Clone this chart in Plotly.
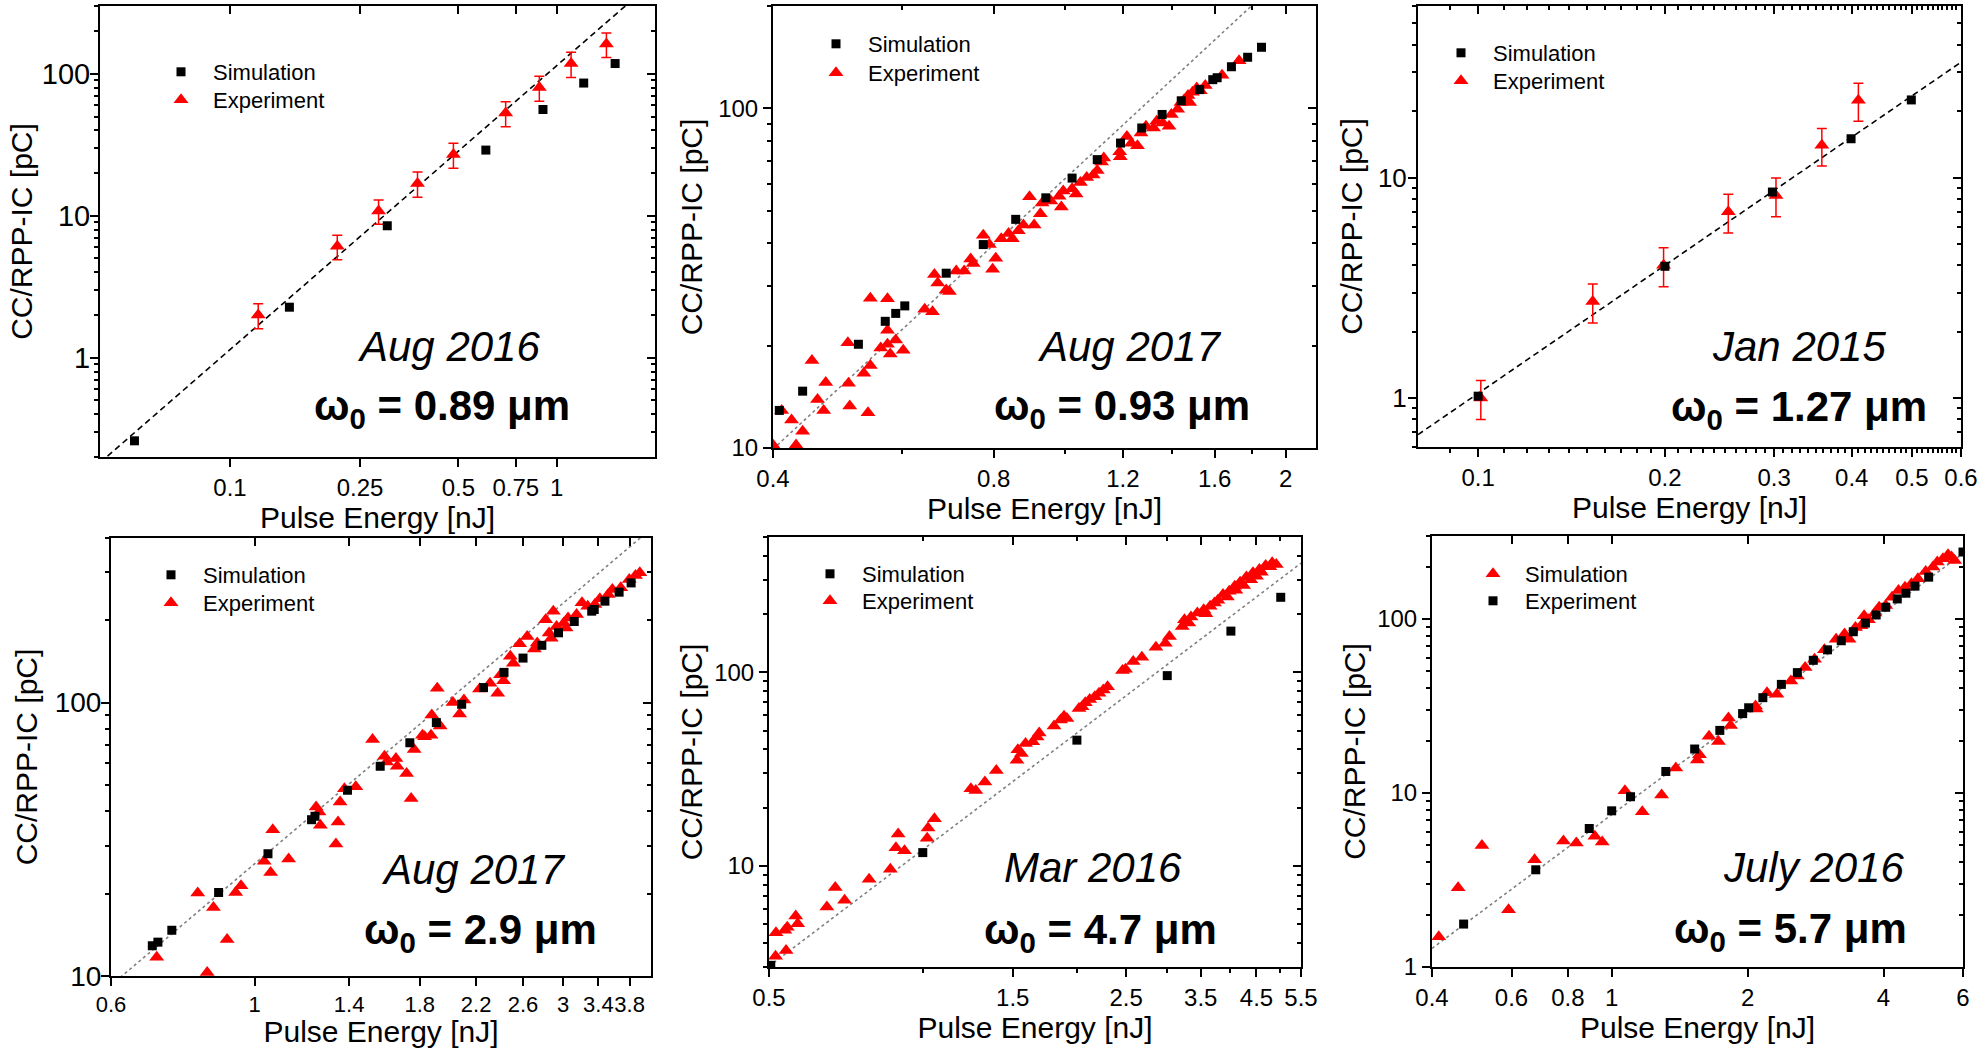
import math
import plotly.graph_objects as go

FONT = "Liberation Sans, Arial, sans-serif"
RED = "#ff0000"
BLACK = "#000000"
W, H = 1985, 1048

# ---------------------------------------------------------------- data
# Panel 1 -- Aug 2016, w0 = 0.89 um
p1_sim = [(0.051, 0.26), (0.152, 2.27), (0.303, 8.5), (0.607, 29), (0.908, 56),
          (1.21, 86), (1.51, 118)]
p1_exp = [(0.122, 2.0), (0.213, 6.1), (0.285, 10.8), (0.375, 16.9), (0.483, 27),
          (0.698, 53), (0.885, 80), (1.107, 118), (1.42, 162)]
p1_exp_err = [0.4, 1.2, 2.1, 3.4, 5.4, 10.6, 16, 24, 32]

# Panel 2 -- Aug 2017, w0 = 0.93 um
p2_sim = [(0.408, 12.9), (0.439, 14.7), (0.523, 20.2), (0.569, 23.6), (0.588, 24.9),
          (0.605, 26.2), (0.689, 32.7), (0.774, 39.7), (0.857, 47.1), (0.942, 54.5),
          (1.023, 62.3), (1.107, 70.6), (1.191, 79.0), (1.273, 87.5), (1.357, 95.9),
          (1.441, 105.2), (1.527, 113.5), (1.591, 121.4), (1.613, 123), (1.687, 132.5),
          (1.775, 141.3), (1.854, 151.2)]
p2_exp = [(0.40, 10.2), (0.411, 12.9), (0.424, 12.1), (0.439, 11.2), (0.430, 10.2),
          (0.452, 18.1), (0.460, 13.9), (0.469, 12.9), (0.472, 15.6), (0.506, 20.4),
          (0.507, 15.5), (0.509, 13.3), (0.532, 16.6), (0.539, 12.7), (0.543, 27.6),
          (0.543, 17.5), (0.561, 19.7), (0.573, 27.5), (0.573, 22.2), (0.573, 20.2),
          (0.578, 18.9), (0.588, 20.8), (0.602, 19.4), (0.644, 25.6), (0.660, 25.2),
          (0.664, 32.4), (0.671, 30.6), (0.689, 29.2), (0.696, 28.9), (0.711, 33.2),
          (0.729, 33.2), (0.744, 36.0), (0.750, 34.9), (0.774, 42.3), (0.789, 39.7),
          (0.797, 33.6), (0.805, 36.2), (0.819, 41.3), (0.838, 42.8), (0.848, 41.3),
          (0.864, 43.6), (0.878, 45.3), (0.895, 54.9), (0.908, 45.3), (0.926, 48.9),
          (0.931, 52.6), (0.957, 53.3), (0.982, 55.1), (0.989, 51.2), (0.995, 57.1),
          (1.023, 58.0), (1.036, 55.9), (1.050, 60.5), (1.071, 62.6), (1.093, 63.6),
          (1.107, 65.6), (1.122, 69.5), (1.130, 71.4), (1.188, 74.5), (1.190, 72.0),
          (1.215, 82.6), (1.232, 78.9), (1.256, 77.6), (1.270, 84.5), (1.290, 88.5),
          (1.321, 87.5), (1.334, 91.6), (1.360, 90.5), (1.387, 88.5), (1.397, 95.9),
          (1.425, 99.3), (1.440, 104), (1.454, 105.7), (1.472, 109), (1.480, 104),
          (1.493, 111.4), (1.513, 114.8), (1.530, 112.7), (1.554, 116.7), (1.638, 125),
          (1.728, 138)]

# Panel 3 -- Jan 2015, w0 = 1.27 um
p3_sim = [(0.1, 1.02), (0.2, 3.96), (0.298, 8.6), (0.399, 15.0), (0.499, 22.5)]
p3_exp = [(0.101, 1.0), (0.153, 2.74), (0.199, 4.0), (0.253, 7.0), (0.302, 8.3),
          (0.358, 14.0), (0.410, 22.4)]
p3_exp_err = [0.2, 0.55, 0.8, 1.4, 1.65, 2.7, 4.4]

# Panel 4 -- Aug 2017, w0 = 2.9 um
p4_sim = [(0.695, 12.9), (0.709, 13.3), (0.745, 14.7), (0.880, 20.2), (1.049, 28.0),
          (1.225, 37.3), (1.240, 38.4), (1.392, 47.8), (1.564, 58.5), (1.738, 71.3),
          (1.910, 84.5), (2.090, 98.6), (2.259, 113.5), (2.43, 129), (2.60, 145.5),
          (2.78, 162), (2.95, 180), (3.12, 198), (3.32, 216), (3.35, 219), (3.48, 235),
          (3.66, 253.5), (3.82, 274)]
p4_exp = [(0.706, 11.7), (0.845, 10.3), (0.817, 20.1), (0.864, 17.8), (0.907, 13.6),
          (0.935, 20.2), (0.953, 21.4), (1.035, 26.3), (1.059, 23.9), (1.067, 34.3),
          (1.129, 26.8), (1.245, 41.5), (1.258, 39.8), (1.264, 35.6), (1.336, 30.4),
          (1.346, 36.6), (1.356, 43.3), (1.377, 48.4), (1.434, 49.2), (1.522, 73.3),
          (1.588, 63.7), (1.600, 60.7), (1.654, 62.5), (1.662, 58.5), (1.718, 55.0),
          (1.746, 44.6), (1.765, 67.4), (1.818, 76.0), (1.832, 75), (1.874, 76.0),
          (1.879, 90.1), (1.916, 112.9), (1.936, 82.1), (2.026, 100), (2.075, 90.8),
          (2.107, 102.3), (2.227, 112.2), (2.312, 117.8), (2.376, 108.2), (2.40, 126.4),
          (2.426, 120.1), (2.485, 147.6), (2.512, 139.4), (2.569, 164.1), (2.639, 174.6),
          (2.707, 157), (2.735, 165.2), (2.818, 201), (2.853, 179.7), (2.875, 172),
          (2.896, 215.8), (2.93, 190), (3.006, 195.5), (3.03, 187.5), (3.052, 204),
          (3.146, 210), (3.207, 231.7), (3.273, 225), (3.357, 228.4), (3.418, 239.6),
          (3.521, 248.5), (3.573, 259.3), (3.681, 263), (3.795, 282), (3.88, 291.7),
          (3.94, 298.5)]

# Panel 5 -- Mar 2016, w0 = 4.7 um
p5_sim = [(0.504, 3.06), (1.0, 11.7), (2.003, 44.6), (3.01, 96.1), (4.01, 163.2),
          (5.02, 244)]
p5_exp = [(0.515, 3.41), (0.516, 4.51), (0.540, 3.65), (0.537, 4.64), (0.543, 4.82),
          (0.564, 5.50), (0.569, 5.02), (0.649, 6.13), (0.674, 7.72), (0.703, 6.64),
          (0.785, 8.53), (0.864, 9.61), (0.886, 12.4), (0.895, 14.6), (0.921, 11.96),
          (1.02, 13.9), (1.024, 15.7), (1.054, 17.5), (1.242, 25.0), (1.27, 24.5),
          (1.323, 27.1), (1.393, 31.1), (1.529, 35.1), (1.535, 39.8), (1.56, 38.0),
          (1.589, 42.8), (1.642, 43.7), (1.674, 46.3), (1.69, 48.6), (1.807, 52.7),
          (1.861, 56.6), (1.89, 59.3), (1.915, 57.7), (2.022, 65.0), (2.05, 66.3),
          (2.08, 69.6), (2.122, 72.4), (2.171, 74.8), (2.213, 77.8), (2.256, 80.9),
          (2.30, 84.2), (2.46, 102), (2.494, 103.7), (2.582, 113.6), (2.684, 119.7),
          (2.86, 134.8), (2.984, 141.4), (3.04, 153), (3.22, 172.6), (3.253, 187),
          (3.317, 179.6), (3.35, 193), (3.447, 202.3), (3.548, 210.6), (3.583, 200.8),
          (3.652, 219.3), (3.724, 228), (3.781, 235.5), (3.87, 252), (3.946, 245),
          (3.98, 262), (4.08, 278.5), (4.10, 265.5), (4.18, 292), (4.246, 280.5),
          (4.30, 311), (4.385, 301), (4.43, 326.6), (4.50, 313.7), (4.56, 339.6),
          (4.60, 328.9), (4.69, 356.4), (4.78, 350.8), (4.83, 368), (4.92, 360.7)]

# Panel 6 -- July 2016, w0 = 5.7 um (legend: triangles = Simulation, squares = Experiment)
p6_sim = [(0.414, 1.49), (0.457, 2.85), (0.516, 5.0), (0.591, 2.13), (0.675, 4.14),
          (0.782, 5.3), (0.835, 5.16), (0.918, 5.64), (0.953, 5.23), (1.07, 10.3),
          (1.169, 7.8), (1.29, 9.74), (1.387, 13.9), (1.548, 15.5), (1.565, 16.6),
          (1.643, 21.2), (1.724, 19.8), (1.814, 27.0), (1.834, 24.4), (2.083, 31.6),
          (2.09, 30.4), (2.208, 37.7), (2.323, 36.9), (2.494, 44), (2.578, 47),
          (2.682, 52.6), (2.814, 58.7), (2.96, 66.5), (3.141, 76.6), (3.28, 81.9),
          (3.356, 76.6), (3.467, 89.5), (3.568, 91.5), (3.624, 104.5), (3.704, 99.1),
          (3.828, 108.3), (3.913, 116.8), (4.046, 119.4), (4.178, 133.4), (4.319, 145.8),
          (4.464, 152.4), (4.613, 159.4), (4.768, 170.3), (4.96, 187.8), (5.149, 199),
          (5.263, 212.6), (5.417, 222.3), (5.56, 234.4), (5.66, 227.2), (5.749, 217)]
p6_exp = [(0.470, 1.765), (0.679, 3.62), (0.892, 6.25), (1.0, 7.9), (1.101, 9.52),
          (1.318, 13.3), (1.527, 17.9), (1.736, 22.9), (1.950, 28.6), (2.011, 30.9),
          (2.162, 35.3), (2.376, 42.1), (2.578, 49.2), (2.796, 57.9), (3.006, 66.5),
          (3.225, 75), (3.429, 84.5), (3.648, 94.8), (3.853, 105.5), (4.046, 116.8),
          (4.291, 130.5), (4.484, 140.7), (4.697, 154.5), (5.036, 174), (6.0, 242.7)]

# power-law guide lines  y = a * x**k
fit_a = [114, 62, 89.4, 25.7, 12.1, 7.5]
fit_k = [2.0, 2.0, 1.93, 2.0, 2.0, 1.93]

dates = ["Aug 2016", "Aug 2017", "Jan 2015", "Aug 2017", "Mar 2016", "July 2016"]
waists = ["0.89", "0.93", "1.27", "2.9", "4.7", "5.7"]

# x tick labels per panel
x_ticks = [
    [0.1, 0.25, 0.5, 0.75, 1],
    [0.4, 0.8, 1.2, 1.6, 2],
    [0.1, 0.2, 0.3, 0.4, 0.5, 0.6],
    [0.6, 1, 1.4, 1.8, 2.2, 2.6, 3, 3.4, 3.8],
    [0.5, 1.5, 2.5, 3.5, 4.5, 5.5],
    [0.4, 0.6, 0.8, 1, 2, 4, 6],
]
y_ticks = [[1, 10, 100], [10, 100], [1, 10], [10, 100], [10, 100], [1, 10, 100]]

# ---------------------------------------------------------------- layout of the panels
# plot-area boxes in pixels: (left, right, top, bottom)
boxes = [
    (100, 655, 6, 457),
    (773, 1316, 6, 448),
    (1418, 1961, 6, 447),
    (111, 651, 538, 976),
    (769, 1301, 537, 967),
    (1432, 1963, 536, 967),
]
x_ranges = [(0.04, 2.0), (0.4, 2.2), (0.08, 0.6), (0.6, 4.1), (0.5, 5.5), (0.4, 6.0)]
y_ranges = [(0.2, 300), (10, 200), (0.6, 60), (10, 400), (3, 500), (1, 300)]
x_minor = [
    [],
    [0.6, 1.0, 1.4, 1.8],
    [round(0.09 + 0.01 * i, 2) for i in range(51)],
    [],
    [1, 2, 3, 4, 5],
    [],
]
x_tick_size = [24, 24, 24, 22, 24, 24]
y_tick_size = [29, 24, 26, 28, 24, 24]
y_label_shift = [-6, 0, -4, -6, 0, 0]
x_title_gap = [2, 3, 1, 4, 1, 1]
y_title_gap = [0, 7, 6, 8, 3, 3]
fit_dash = ["6px,4px", "3px,3px", "6px,4px", "3px,3px", "3px,3px", "3px,3px"]
fit_color = ["#000000", "#808080", "#000000", "#808080", "#808080", "#808080"]

# legend key centres (px): first row, second row
legend_rows = [
    ((181, 72), (181, 100)),
    ((836, 44), (836, 73)),
    ((1461, 53), (1461, 81)),
    ((171, 575), (171, 603)),
    ((830, 574), (830, 601)),
    ((1493, 574), (1493, 601)),
]
date_pos = [(448, 346), (1129, 346), (1799, 346), (473, 869), (1093, 867), (1813, 867)]
waist_pos = [(442, 408), (1122, 408), (1799, 409), (480, 932), (1100, 932), (1790, 931)]

KEY_W = 54                       # legend symbol slot width
KEY_C = (KEY_W + 10) / 2         # symbol centre offset inside the legend box
KEY_DY = 21                      # item centre offset from the legend top


def fmt(v):
    return "%g" % v


def log_minor(lo, hi, majors):
    vals = []
    e = math.floor(math.log10(lo)) - 1
    while 10 ** e <= hi:
        for m in range(2, 10):
            v = m * 10 ** e
            if lo * 0.999 <= v <= hi * 1.001 and all(abs(v - t) > 1e-9 for t in majors):
                vals.append(v)
        e += 1
    return vals


def px_x(x):
    return x / W


def px_y(y):
    return 1 - y / H


def legend_name(k):
    return "legend" if k == 1 else "legend" + str(k)


fig = go.Figure()

sims = [p1_sim, p2_sim, p3_sim, p4_sim, p5_sim, p6_sim]
exps = [p1_exp, p2_exp, p3_exp, p4_exp, p5_exp, p6_exp]
errs = [p1_exp_err, None, p3_exp_err, None, None, None]

title_font = dict(family=FONT, size=30, color="black")

for i in range(6):
    n = i + 1
    xs = "" if n == 1 else str(n)
    xa, ya = "x" + xs, "y" + xs
    leg_first, leg_second = legend_name(2 * i + 1), legend_name(2 * i + 2)
    x0, x1 = x_ranges[i]

    # guide line
    fig.add_trace(go.Scatter(
        x=[x0, x1], y=[fit_a[i] * x0 ** fit_k[i], fit_a[i] * x1 ** fit_k[i]],
        mode="lines", line=dict(color=fit_color[i], width=1.6, dash=fit_dash[i]),
        showlegend=False, hoverinfo="skip", xaxis=xa, yaxis=ya))

    sq = exps[i] if n == 6 else sims[i]
    tri = sims[i] if n == 6 else exps[i]
    sq_name = "Experiment" if n == 6 else "Simulation"
    tri_name = "Simulation" if n == 6 else "Experiment"
    # Simulation is listed first in every legend
    tri_leg = leg_first if n == 6 else leg_second
    sq_leg = leg_second if n == 6 else leg_first

    tri_kw = {}
    if errs[i] is not None:
        tri_kw["error_y"] = dict(type="data", array=errs[i], color=RED,
                                 thickness=1.5, width=5)
    fig.add_trace(go.Scatter(
        x=[p[0] for p in tri], y=[p[1] for p in tri], mode="markers", name=tri_name,
        marker=dict(symbol="triangle-up", size=13, color=RED, line=dict(width=0)),
        legend=tri_leg, xaxis=xa, yaxis=ya, **tri_kw))
    fig.add_trace(go.Scatter(
        x=[p[0] for p in sq], y=[p[1] for p in sq], mode="markers", name=sq_name,
        marker=dict(symbol="square", size=9, color=BLACK, line=dict(width=0)),
        legend=sq_leg, xaxis=xa, yaxis=ya))

    # empty trace so the mirrored tick axes get drawn
    fig.add_trace(go.Scatter(x=[None], y=[None], showlegend=False, hoverinfo="skip",
                             xaxis="x" + str(n + 6), yaxis="y" + str(n + 6)))

    left, right, top, bottom = boxes[i]
    xdom = [px_x(left), px_x(right)]
    ydom = [px_y(bottom), px_y(top)]
    xr = [math.log10(x0), math.log10(x1)]
    y0, y1 = y_ranges[i]
    yr = [math.log10(y0), math.log10(y1)]
    ymin = log_minor(y0, y1, y_ticks[i])
    xmin = [v for v in x_minor[i] if all(abs(v - t) > 1e-9 for t in x_ticks[i])]

    common = dict(type="log", showgrid=False, zeroline=False, tickmode="array",
                  tickwidth=1.5, tickcolor="black", automargin=False)
    fig.layout["xaxis" + xs] = dict(
        common, domain=xdom, range=xr, anchor=ya,
        tickvals=x_ticks[i], ticktext=[fmt(v) for v in x_ticks[i]],
        ticks="outside", ticklen=8, tickangle=0,
        tickfont=dict(family=FONT, size=x_tick_size[i], color="black"),
        minor=dict(tickmode="array", tickvals=xmin, ticks="outside", ticklen=4,
                   tickwidth=1.5, tickcolor="black"),
        showline=True, linecolor="black", linewidth=2, mirror=True,
        title=dict(text="Pulse Energy [nJ]", font=title_font, standoff=x_title_gap[i]))
    fig.layout["yaxis" + xs] = dict(
        common, domain=ydom, range=yr, anchor=xa,
        tickvals=y_ticks[i], ticktext=[fmt(v) for v in y_ticks[i]],
        ticks="outside", ticklen=8, ticklabelstandoff=y_label_shift[i],
        tickfont=dict(family=FONT, size=y_tick_size[i], color="black"),
        minor=dict(tickmode="array", tickvals=ymin, ticks="outside", ticklen=4,
                   tickwidth=1.5, tickcolor="black"),
        showline=True, linecolor="black", linewidth=2, mirror=True,
        title=dict(text="CC/RPP-IC [pC]", font=title_font, standoff=y_title_gap[i]))
    # inward ticks on the top and right frame edges
    fig.layout["xaxis" + str(n + 6)] = dict(
        common, range=xr, overlaying=xa, anchor=ya, side="top",
        tickvals=x_ticks[i], ticks="inside", ticklen=8, showticklabels=False,
        minor=dict(tickmode="array", tickvals=xmin, ticks="inside", ticklen=4,
                   tickwidth=1.5, tickcolor="black"),
        showline=False)
    fig.layout["yaxis" + str(n + 6)] = dict(
        common, range=yr, overlaying=ya, anchor=xa, side="right",
        tickvals=y_ticks[i], ticks="inside", ticklen=8, showticklabels=False,
        minor=dict(tickmode="array", tickvals=ymin, ticks="inside", ticklen=4,
                   tickwidth=1.5, tickcolor="black"),
        showline=False)

    # one single-entry legend per row so the rows sit where wanted
    for leg, (kx, ky) in zip((leg_first, leg_second), legend_rows[i]):
        fig.layout[leg] = dict(
            x=px_x(kx - KEY_C), y=px_y(ky - KEY_DY), xanchor="left", yanchor="top",
            bgcolor="rgba(0,0,0,0)", borderwidth=0, itemwidth=KEY_W,
            font=dict(family=FONT, size=22, color="black"))

    dx, dy = date_pos[i]
    fig.add_annotation(x=px_x(dx), y=px_y(dy), xref="paper", yref="paper",
                       text="<i>" + dates[i] + "</i>", showarrow=False,
                       xanchor="center", yanchor="middle",
                       font=dict(family=FONT, size=42, color="black"))
    wx, wy = waist_pos[i]
    fig.add_annotation(x=px_x(wx), y=px_y(wy), xref="paper", yref="paper",
                       text="<b>\u03c9<sub>0</sub> = " + waists[i] + " \u03bcm</b>",
                       showarrow=False, xanchor="center", yanchor="middle",
                       bgcolor="white" if i >= 3 else None,
                       font=dict(family=FONT, size=42, color="black"))

fig.update_layout(
    template="none",
    width=W, height=H, autosize=False,
    margin=dict(l=0, r=0, t=0, b=0, pad=0),
    paper_bgcolor="white", plot_bgcolor="white",
    font=dict(family=FONT, color="black"),
)

fig.write_html("out.html")
